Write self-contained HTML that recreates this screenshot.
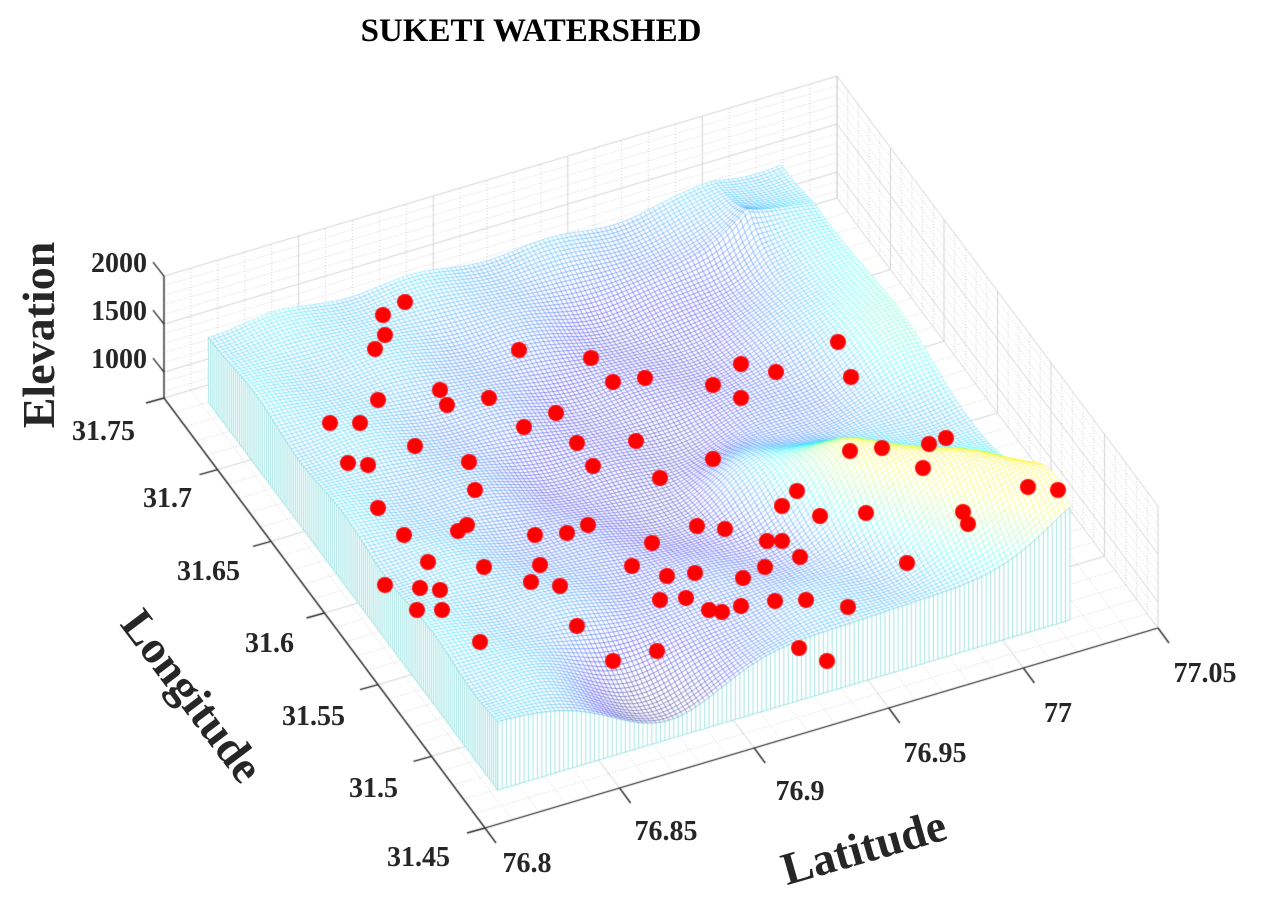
<!DOCTYPE html>
<html><head><meta charset="utf-8">
<style>
html,body{margin:0;padding:0;background:#fff;}
#wrap{position:relative;width:1280px;height:908px;overflow:hidden;}
canvas,svg{position:absolute;left:0;top:0;}
text{font-family:"Liberation Serif",serif;font-weight:bold;fill:#262626;}
</style></head><body>
<div id="wrap">
<canvas id="c" width="1280" height="908"></canvas>
<svg width="1280" height="908" viewBox="0 0 1280 908">
<text x="531" y="41" font-size="33" text-anchor="middle" style="fill:#000">SUKETI WATERSHED</text>
<text font-size="28" text-anchor="end" x="147" y="272">2000</text>
<text font-size="28" text-anchor="end" x="147" y="320">1500</text>
<text font-size="28" text-anchor="end" x="147" y="368">1000</text>
<text font-size="28" text-anchor="end" x="135" y="440">31.75</text>
<text font-size="28" text-anchor="end" x="192" y="507">31.7</text>
<text font-size="28" text-anchor="end" x="240" y="580">31.65</text>
<text font-size="28" text-anchor="end" x="294" y="652">31.6</text>
<text font-size="28" text-anchor="end" x="345" y="725">31.55</text>
<text font-size="28" text-anchor="end" x="398" y="797">31.5</text>
<text font-size="28" text-anchor="end" x="450" y="866">31.45</text>
<text font-size="28" text-anchor="middle" x="527" y="872">76.8</text>
<text font-size="28" text-anchor="middle" x="666" y="840">76.85</text>
<text font-size="28" text-anchor="middle" x="800" y="800">76.9</text>
<text font-size="28" text-anchor="middle" x="935" y="762">76.95</text>
<text font-size="28" text-anchor="middle" x="1058" y="722">77</text>
<text font-size="28" text-anchor="middle" x="1205" y="682">77.05</text>
<text font-size="46" text-anchor="middle" transform="translate(54,335) rotate(-90)">Elevation</text>
<text font-size="46" text-anchor="middle" transform="translate(180,705) rotate(53)">Longitude</text>
<text font-size="46" text-anchor="middle" transform="translate(868,862) rotate(-16)">Latitude</text>
</svg>
</div>
<script>
const cv=document.getElementById('c'),ctx=cv.getContext('2d');
const O=[485,828],DU=[673,-200],DV=[-321,-430],Z0=730,ZS=0.096;
function P(u,v,z){return [O[0]+DU[0]*u+DV[0]*v, O[1]+DU[1]*u+DV[1]*v-(z-Z0)*ZS];}
function line(a,b,col,w,dash){ctx.beginPath();ctx.strokeStyle=col;ctx.lineWidth=w;ctx.setLineDash(dash||[]);ctx.moveTo(a[0],a[1]);ctx.lineTo(b[0],b[1]);ctx.stroke();}
const maj='#d4d4d4',mn='#c8c8c8',dd=[1,2];
for(let i=0;i<=25;i++){let u=i/25;let m=i%5==0;line(P(u,0,Z0),P(u,1,Z0),m?maj:mn,m?1:0.8,m?[]:dd);}
for(let i=0;i<=30;i++){let v=i/30;let m=i%5==0;line(P(0,v,Z0),P(1,v,Z0),m?maj:mn,m?1:0.8,m?[]:dd);}
for(let i=0;i<=25;i++){let u=i/25;let m=i%5==0;line(P(u,1,Z0),P(u,1,2000),m?maj:mn,m?1:0.8,m?[]:dd);}
for(let z=800;z<=2000;z+=100){let m=z%500==0;line(P(0,1,z),P(1,1,z),m?maj:mn,m?1:0.8,m?[]:dd);}
for(let i=0;i<=30;i++){let v=i/30;let m=i%5==0;line(P(1,v,Z0),P(1,v,2000),m?maj:mn,m?1:0.8,m?[]:dd);}
for(let z=800;z<=2000;z+=100){let m=z%500==0;line(P(1,0,z),P(1,1,z),m?maj:mn,m?1:0.8,m?[]:dd);}
ctx.setLineDash([]);
function g(a,b,sa,sb){return Math.exp(-(a*a)/(2*sa*sa)-(b*b)/(2*sb*sb));}
function segd(u,v,a,b){let dx=b[0]-a[0],dy=b[1]-a[1];let t=((u-a[0])*dx+(v-a[1])*dy)/(dx*dx+dy*dy);t=Math.max(0,Math.min(1,t));let px=a[0]+t*dx-u,py=a[1]+t*dy-v;return Math.sqrt(px*px+py*py);}
function base(u,v){
 let z=1450;
 z-=380*g(u-0.5,v-0.5,0.2,0.24);
 z-=480*g(u-0.3,v-0.07,0.08,0.09);
 let d=segd(u,v,[0.58,0.42],[0.92,0.1]);
 z+=600*Math.exp(-d*d/(2*0.055*0.055))*Math.min(1,Math.max(0,(u-0.5)/0.2));
 z+=200*g(u-0.88,v-0.62,0.06,0.12);
 z-=200*g(u-0.65,v-0.8,0.12,0.1);
 z+=35*Math.sin(u*31)*Math.cos(v*23);
 return z;
}
function spike(u,v){return 330*Math.exp(-(Math.abs(u-0.8)+Math.abs(v-0.86))/0.06);}
function jet(t){t=Math.max(0,Math.min(1,t));const c=x=>Math.round(255*Math.max(0,Math.min(1,x)));return [c(1.5-Math.abs(4*t-3)),c(1.5-Math.abs(4*t-2)),c(1.5-Math.abs(4*t-1))];}
function col(z){let t=0.02+(z-1000)*0.0007;t=Math.min(t,0.64);let c=jet(t);return 'rgba('+c[0]+','+c[1]+','+c[2]+',0.5)';}
const u0=0.05,u1=0.9,v0=0.065,v1=0.966,NU=130,NV=140;
const U=i=>u0+(u1-u0)*i/NU,V=j=>v0+(v1-v0)*j/NV;
const Z=[],C=[];for(let i=0;i<=NU;i++){Z[i]=[];C[i]=[];for(let j=0;j<=NV;j++){let b=base(U(i),V(j));C[i][j]=b;Z[i][j]=b+spike(U(i),V(j));}}
const quads=[];for(let i=0;i<NU;i++)for(let j=0;j<NV;j++){quads.push([i,j,200*U(i+0.5)+430*V(j+0.5)]);}
quads.sort((a,b)=>b[2]-a[2]);
ctx.lineWidth=0.6;
for(const q of quads){let i=q[0],j=q[1];
 let a=P(U(i),V(j),Z[i][j]),b=P(U(i+1),V(j),Z[i+1][j]),c=P(U(i+1),V(j+1),Z[i+1][j+1]),d=P(U(i),V(j+1),Z[i][j+1]);
 ctx.beginPath();ctx.moveTo(a[0],a[1]);ctx.lineTo(b[0],b[1]);ctx.lineTo(c[0],c[1]);ctx.lineTo(d[0],d[1]);ctx.closePath();
 ctx.fillStyle='#fff';ctx.fill();ctx.strokeStyle=col((C[i][j]+C[i+1][j+1])/2);ctx.stroke();}
const wc='rgba(80,205,205,0.75)';
function wall(pts){
 ctx.beginPath();let f=pts.map(p=>P(p[0],p[1],Z0)),t=pts.map(p=>P(p[0],p[1],p[2]));
 ctx.moveTo(f[0][0],f[0][1]);for(const p of f)ctx.lineTo(p[0],p[1]);for(let k=t.length-1;k>=0;k--)ctx.lineTo(t[k][0],t[k][1]);ctx.closePath();ctx.fillStyle='#fff';ctx.fill();
 ctx.lineWidth=0.7;ctx.strokeStyle=wc;
 for(let k=0;k<f.length;k++){ctx.beginPath();ctx.moveTo(f[k][0],f[k][1]);ctx.lineTo(t[k][0],t[k][1]);ctx.stroke();}
 ctx.beginPath();ctx.moveTo(f[0][0],f[0][1]);for(const p of f)ctx.lineTo(p[0],p[1]);ctx.stroke();
 ctx.beginPath();ctx.moveTo(t[0][0],t[0][1]);for(const p of t)ctx.lineTo(p[0],p[1]);ctx.stroke();}
let L=[];for(let j=0;j<=NV;j++)L.push([u0,V(j),Z[0][j]]);wall(L);
let R=[];for(let i=0;i<=NU;i++)R.push([U(i),v0,Z[i][0]]);wall(R);
const M=[[405,302],[383,315],[385,335],[375,349],[330,423],[348,463],[368,465],[378,400],[440,390],[447,405],[489,398],[519,350],[591,358],[613,382],[645,378],[713,385],[741,364],[741,398],[776,372],[838,342],[851,377],[415,446],[556,413],[577,443],[593,466],[469,462],[475,490],[467,525],[636,441],[713,459],[660,478],[797,491],[850,451],[882,448],[923,468],[929,444],[946,438],[1028,487],[1058,490],[963,512],[968,524],[907,563],[866,513],[820,516],[782,506],[725,529],[697,526],[652,543],[567,533],[535,535],[458,531],[428,562],[378,508],[404,535],[385,585],[420,588],[440,590],[417,610],[484,567],[531,582],[632,566],[667,576],[695,573],[743,578],[765,567],[800,557],[806,600],[775,601],[741,606],[686,598],[660,600],[577,626],[480,642],[560,586],[722,612],[709,610],[782,541],[767,541],[848,607],[827,661],[799,648],[657,651],[613,661],[540,565],[588,525],[524,427],[360,423],[442,610]];
ctx.fillStyle='#ff0000';for(const m of M){ctx.beginPath();ctx.arc(m[0],m[1],8,0,7);ctx.fill();}
const ax='#262626';
line(P(0,0,Z0),P(1,0,Z0),ax,1.3);line(P(0,0,Z0),P(0,1,Z0),ax,1.3);line(P(0,1,Z0),P(0,1,2000),ax,1.3);
for(let k=0;k<=5;k++){let a=P(k/5,0,Z0);line(a,[a[0]+11,a[1]+15],ax,1.3);}
for(let k=0;k<=6;k++){let a=P(0,k/6,Z0);line(a,[a[0]-18,a[1]+5],ax,1.3);}
for(const z of [1000,1500,2000]){let a=P(0,1,z);line(a,[a[0]-11,a[1]-14],ax,1.3);}
</script>
</body></html>
